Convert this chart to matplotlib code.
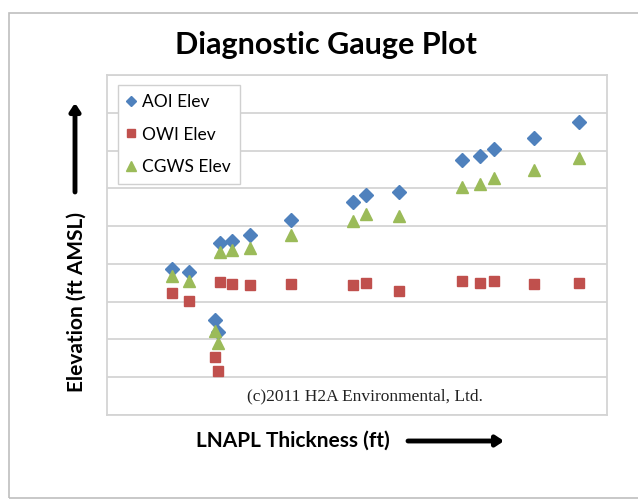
import matplotlib
matplotlib.use('Agg')
import matplotlib.pyplot as plt
from matplotlib.patches import Rectangle

# LNAPL thickness (arbitrary units, no tick labels on chart)
thk = [1.30, 1.63, 2.15, 2.21, 2.26, 2.49, 2.86, 3.67, 4.91, 5.17, 5.84, 7.10, 7.46, 7.73, 8.54, 9.44]

# Elevations (arbitrary units)
aoi = [3.86, 3.78, 2.51, 2.20, 4.54, 4.61, 4.76, 5.15, 5.65, 5.82, 5.91, 6.76, 6.86, 7.04, 7.32, 7.75]
owi = [3.24, 3.02, 1.53, 1.17, 3.53, 3.47, 3.44, 3.47, 3.44, 3.50, 3.28, 3.55, 3.49, 3.55, 3.47, 3.49]
cgws = [3.69, 3.55, 2.22, 1.91, 4.31, 4.36, 4.43, 4.76, 5.14, 5.31, 5.28, 6.04, 6.11, 6.28, 6.49, 6.79]

labels = ['AOI Elev', 'OWI Elev', 'CGWS Elev']

W, H = 638, 500
fig = plt.figure(figsize=(W/100, H/100), dpi=100)
fig.patch.set_facecolor('white')

# outer chart frame (right side runs off the image)
fig.patches.append(Rectangle((9/W, 2/H), 1.1, (H-13-2)/H, transform=fig.transFigure,
                             fill=False, edgecolor='#bfbfbf', lw=1.2, clip_on=False))

ax = fig.add_axes([107/W, 1-415/H, 500/W, 340/H])
ax.set_xlim(0, 10)
ax.set_ylim(0, 9)
ax.set_yticks(range(10))
ax.set_xticks([])
ax.tick_params(length=0, labelleft=False, labelbottom=False)
ax.grid(axis='y', color='#d4d4d4', lw=1.3)
ax.set_axisbelow(True)
for s in ax.spines.values():
    s.set_color('#d4d4d4')
    s.set_linewidth(1.3)

ax.plot(thk, aoi, ls='none', marker='D', ms=7, color='#4F81BD', label=labels[0])
ax.plot(thk, owi, ls='none', marker='s', ms=7.5, color='#C0504D', label=labels[1])
ax.plot(thk, cgws, ls='none', marker='^', ms=8.5, color='#9BBB59', label=labels[2])

leg = ax.legend(loc='upper left', bbox_to_anchor=((118-107)/500, (415-85)/340),
                borderaxespad=0, fancybox=False, edgecolor='#d0d0d0', framealpha=1,
                prop={'family': 'Lato', 'size': 12.5}, handlelength=0.55, handletextpad=0.35,
                labelspacing=0.97, borderpad=0.5, markerscale=0.78)
leg.get_frame().set_linewidth(1.0)

fig.text(326/W, 1-45/H, 'Diagnostic Gauge Plot', ha='center', va='center',
         family='Lato', weight='bold', size=22)
ax.text(0.516, (415-396)/340, '(c)2011 H2A Environmental, Ltd.', transform=ax.transAxes,
        ha='center', va='center', family='Liberation Serif', size=12.5, color='#222222')

fig.text(77/W, 1-302/H, 'Elevation (ft AMSL)', rotation=90, ha='center', va='center',
         family='Lato', weight='bold', size=15)
fig.text(293/W, 1-441/H, 'LNAPL Thickness (ft)', ha='center', va='center',
         family='Lato', weight='bold', size=15)

arrow = dict(arrowstyle='-|>,head_length=0.45,head_width=0.3', lw=3.5, color='black',
             shrinkA=0, shrinkB=0)
fig.add_artist(plt.Annotation('', xy=(504, H-441), xytext=(408, H-441),
                              xycoords='figure pixels', arrowprops=arrow))
fig.add_artist(plt.Annotation('', xy=(75, H-103), xytext=(75, H-192),
                              xycoords='figure pixels', arrowprops=arrow))

fig.savefig('out.png', dpi=100)
